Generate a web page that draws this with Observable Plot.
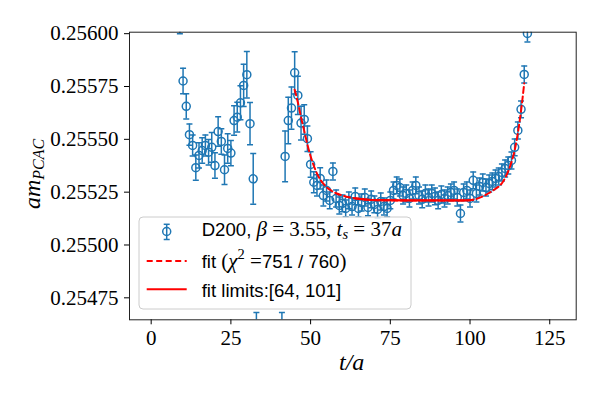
<!DOCTYPE html>
<html>
<head>
<meta charset="utf-8">
<script src="https://cdn.jsdelivr.net/npm/d3@7"></script>
<script src="https://cdn.jsdelivr.net/npm/@observablehq/plot@0.6"></script>
<style>
  html, body { margin: 0; padding: 0; background: #fff; }
  #chart { width: 600px; height: 400px; }
</style>
</head>
<body>
<div id="chart"></div>
<script>
// ---- data ----
const tVals = [9,10,11,12,13,14,15,16,17,18,19,20,21,22,23,24,25,26,27,28,29,30,31,32,33,
  41,42,43,44,45,46,47,48,49,50,51,52,53,54,55,56,57,58,59,60,61,62,63,64,65,66,67,68,69,70,
  71,72,73,74,75,76,77,78,79,80,81,82,83,84,85,86,87,88,89,90,91,92,93,94,95,96,97,98,99,100,
  101,102,103,104,105,106,107,108,109,110,111,112,113,114,115,116,117,118];
const mVals = [0.25606,0.255776,0.255656,0.255522,0.255471,0.255366,0.255424,0.255447,0.255471,0.255439,
  0.255462,0.255376,0.255537,0.255490,0.255356,0.255457,0.255435,0.255589,0.255605,0.255673,
  0.255755,0.255806,0.255574,0.255313,0.25456,
  0.25458,0.255419,0.255589,0.255648,0.255815,0.255708,0.255577,0.255594,0.255503,0.255381,
  0.255297,0.255282,0.255315,0.255234,0.255258,0.255211,0.255348,0.255220,0.255187,0.255197,
  0.255173,0.255211,0.255182,0.255230,0.255173,0.255201,0.255225,0.255178,0.255216,0.255192,
  0.255168,0.255206,0.255182,0.255173,0.255211,0.255258,0.255282,0.255272,0.255234,0.255244,
  0.255220,0.255258,0.255282,0.255234,0.255216,0.255244,0.255225,0.255244,0.255230,0.255211,
  0.255239,0.255220,0.255234,0.255249,0.255258,0.255225,0.255149,0.255249,0.255258,0.255220,
  0.255306,0.255244,0.255277,0.255296,0.255272,0.255291,0.255301,0.255315,0.255324,0.255343,
  0.255362,0.255376,0.255400,0.255462,0.255542,0.255642,0.255807,0.256001];
const errVals = [0.00006,0.00006,0.00006,0.00005,0.00005,0.00006,0.00006,0.00006,0.00005,0.00006,
  0.00007,0.00006,0.00007,0.00006,0.00007,0.00007,0.00006,0.00007,0.00007,0.00008,
  0.00010,0.00011,0.00010,0.00012,0.00012,
  0.00010,0.00012,0.00011,0.00010,0.00010,0.00009,0.00008,0.00007,0.00006,0.00006,
  0.00005,0.00005,0.00005,0.00005,0.00005,0.00004,0.00004,0.00004,0.00004,0.00004,
  0.00004,0.00004,0.00004,0.00004,0.00004,0.00004,0.00004,0.00004,0.00004,0.00004,
  0.00004,0.00004,0.00004,0.00004,0.00004,0.00004,0.00004,0.00004,0.00004,0.00004,
  0.00004,0.00004,0.00004,0.00004,0.00004,0.00004,0.00004,0.00004,0.00004,0.00004,
  0.00004,0.00004,0.00004,0.00004,0.00004,0.00004,0.00004,0.00004,0.00004,0.00004,
  0.00004,0.00004,0.00004,0.00004,0.00004,0.00004,0.00004,0.00004,0.00004,0.00004,
  0.00004,0.00004,0.00004,0.00004,0.00004,0.00004,0.00004,0.00004];

const fitT = [45,46,47,48,49,50,51,52,54,56,58,60,62,64,66,68,72,80,90,98,100,101,102,104,106,108,110,112,113,114,115,116,117];
const fitV = [0.255735,0.255675,0.255605,0.255540,0.255475,0.255420,0.255375,0.255338,0.255290,0.255262,
  0.255245,0.255234,0.255226,0.255221,0.255217,0.255214,0.255212,0.255211,0.255211,0.255211,
  0.255212,0.255214,0.255218,0.255230,0.255246,0.255266,0.255292,0.255350,0.255392,0.255448,
  0.255530,0.255635,0.255765];
const fitLimits = [64, 101];

const xTicks = [0, 25, 50, 75, 100, 125];
const yTicks = [0.25475, 0.25500, 0.25525, 0.25550, 0.25575, 0.25600];

// ---- tables ----
const points = tVals.map((t, i) => ({t, v: mVals[i], e: errVals[i]}));
const fit = fitT.map((t, i) => ({t, v: fitV[i]}));
const fitIn = fit.filter(d => d.t >= fitLimits[0] && d.t <= fitLimits[1]);

const blue = "#1f77b4";
const capSymbol = {
  draw(context, size) {
    const w = Math.sqrt(size / Math.PI);
    context.moveTo(-w, 0);
    context.lineTo(w, 0);
  }
};

const chart = Plot.plot({
  width: 600,
  height: 400,
  marginLeft: 129,
  marginRight: 24.3,
  marginTop: 31.7,
  marginBottom: 80.7,
  x: {domain: [-6.8, 133.3]},
  y: {domain: [0.254646, 0.256007]},
  style: {fontFamily: "'Liberation Serif', serif", fontSize: "21px", color: "#000", background: "#fff"},
  marks: [
    Plot.ruleX(points, {x: "t", y1: d => d.v - d.e, y2: d => d.v + d.e, stroke: blue, strokeWidth: 1.5, clip: true}),
    Plot.dot(points, {x: "t", y: d => d.v - d.e, symbol: capSymbol, r: 3, stroke: blue, fill: "none", strokeWidth: 1.5, clip: true}),
    Plot.dot(points, {x: "t", y: d => d.v + d.e, symbol: capSymbol, r: 3, stroke: blue, fill: "none", strokeWidth: 1.5, clip: true}),
    Plot.dot(points, {x: "t", y: "v", r: 4, stroke: blue, fill: "none", strokeWidth: 1.5, clip: true}),
    Plot.line(fit, {x: "t", y: "v", stroke: "red", strokeWidth: 2, strokeDasharray: "6,3.5", curve: "monotone-x", clip: true}),
    Plot.line(fitIn, {x: "t", y: "v", stroke: "red", strokeWidth: 2.2, curve: "monotone-x", clip: true}),
    Plot.frame({stroke: "#222", strokeWidth: 1}),
    Plot.axisX({ticks: xTicks, tickSize: 5, tickPadding: 5, label: null, fontSize: 21}),
    Plot.axisY({ticks: yTicks, tickSize: 5, tickPadding: 6, label: null, fontSize: 21, tickFormat: d => d.toFixed(5)})
  ]
});

document.getElementById("chart").appendChild(chart);

// ---- axis labels with math ----
const svg = d3.select(chart);
const serif = "'Liberation Serif', serif";
const sans = "'Liberation Sans', Arial, sans-serif";

svg.append("text")
  .attr("x", 351.7).attr("y", 370)
  .attr("text-anchor", "middle")
  .attr("font-family", serif).attr("font-size", 24).attr("font-style", "italic")
  .attr("fill", "#000")
  .text("t/a");

const yl = svg.append("text")
  .attr("transform", "translate(40,174) rotate(-90)")
  .attr("text-anchor", "middle")
  .attr("font-family", serif).attr("font-style", "italic").attr("fill", "#000");
yl.append("tspan").attr("font-size", 24).text("am");
yl.append("tspan").attr("font-size", 16).attr("dy", 4).text("PCAC");

// ---- legend ----
const lg = svg.append("g").attr("text-anchor", "start");
lg.append("rect")
  .attr("x", 139).attr("y", 217).attr("width", 272).attr("height", 92)
  .attr("rx", 4).attr("ry", 4)
  .attr("fill", "#fff").attr("fill-opacity", 0.8)
  .attr("stroke", "#cccccc").attr("stroke-width", 1);

// row 1 marker
const mk = lg.append("g").attr("stroke", blue).attr("stroke-width", 1.5).attr("fill", "none");
mk.append("line").attr("x1", 166.7).attr("x2", 166.7).attr("y1", 224.3).attr("y2", 239.5);
mk.append("line").attr("x1", 163.7).attr("x2", 169.7).attr("y1", 224.3).attr("y2", 224.3);
mk.append("line").attr("x1", 163.7).attr("x2", 169.7).attr("y1", 239.5).attr("y2", 239.5);
mk.append("circle").attr("cx", 166.7).attr("cy", 231.5).attr("r", 4);

// row 2 / 3 markers
lg.append("line").attr("x1", 146.7).attr("x2", 186.7).attr("y1", 261).attr("y2", 261)
  .attr("stroke", "red").attr("stroke-width", 2).attr("stroke-dasharray", "6,3.5");
lg.append("line").attr("x1", 146.7).attr("x2", 186.7).attr("y1", 289.3).attr("y2", 289.3)
  .attr("stroke", "red").attr("stroke-width", 2);

const SS = 18.6, MS = 21;
const t1 = lg.append("text").attr("x", 201.7).attr("y", 236).attr("fill", "#000").attr("text-anchor", "start");
t1.append("tspan").attr("font-family", sans).attr("font-size", SS).text("D200, ");
t1.append("tspan").attr("font-family", serif).attr("font-size", MS).attr("font-style", "italic").text("β");
t1.append("tspan").attr("font-family", serif).attr("font-size", MS).text(" = 3.55, ");
t1.append("tspan").attr("font-family", serif).attr("font-size", MS).attr("font-style", "italic").text("t");
t1.append("tspan").attr("font-family", serif).attr("font-size", 14.5).attr("font-style", "italic").attr("dy", 3).text("s");
t1.append("tspan").attr("font-family", serif).attr("font-size", MS).attr("dy", -3).text(" = 37");
t1.append("tspan").attr("font-family", serif).attr("font-size", MS).attr("font-style", "italic").text("a");

const t2 = lg.append("text").attr("x", 201.7).attr("y", 268.3).attr("fill", "#000").attr("text-anchor", "start");
t2.append("tspan").attr("font-family", sans).attr("font-size", SS).text("fit ");
t2.append("tspan").attr("font-family", serif).attr("font-size", MS).text("(");
t2.append("tspan").attr("font-family", serif).attr("font-size", MS).attr("font-style", "italic").text("χ");
t2.append("tspan").attr("font-family", serif).attr("font-size", 14.5).attr("dy", -9).text("2");
t2.append("tspan").attr("font-family", serif).attr("font-size", MS).attr("dy", 9).text(" =");
t2.append("tspan").attr("font-family", sans).attr("font-size", SS).text("751 / 760");
t2.append("tspan").attr("font-family", serif).attr("font-size", MS).text(")");

const t3 = lg.append("text").attr("x", 201.7).attr("y", 296.7).attr("fill", "#000").attr("text-anchor", "start")
  .attr("font-family", sans).attr("font-size", SS).text("fit limits:[64, 101]");
</script>
</body>
</html>
